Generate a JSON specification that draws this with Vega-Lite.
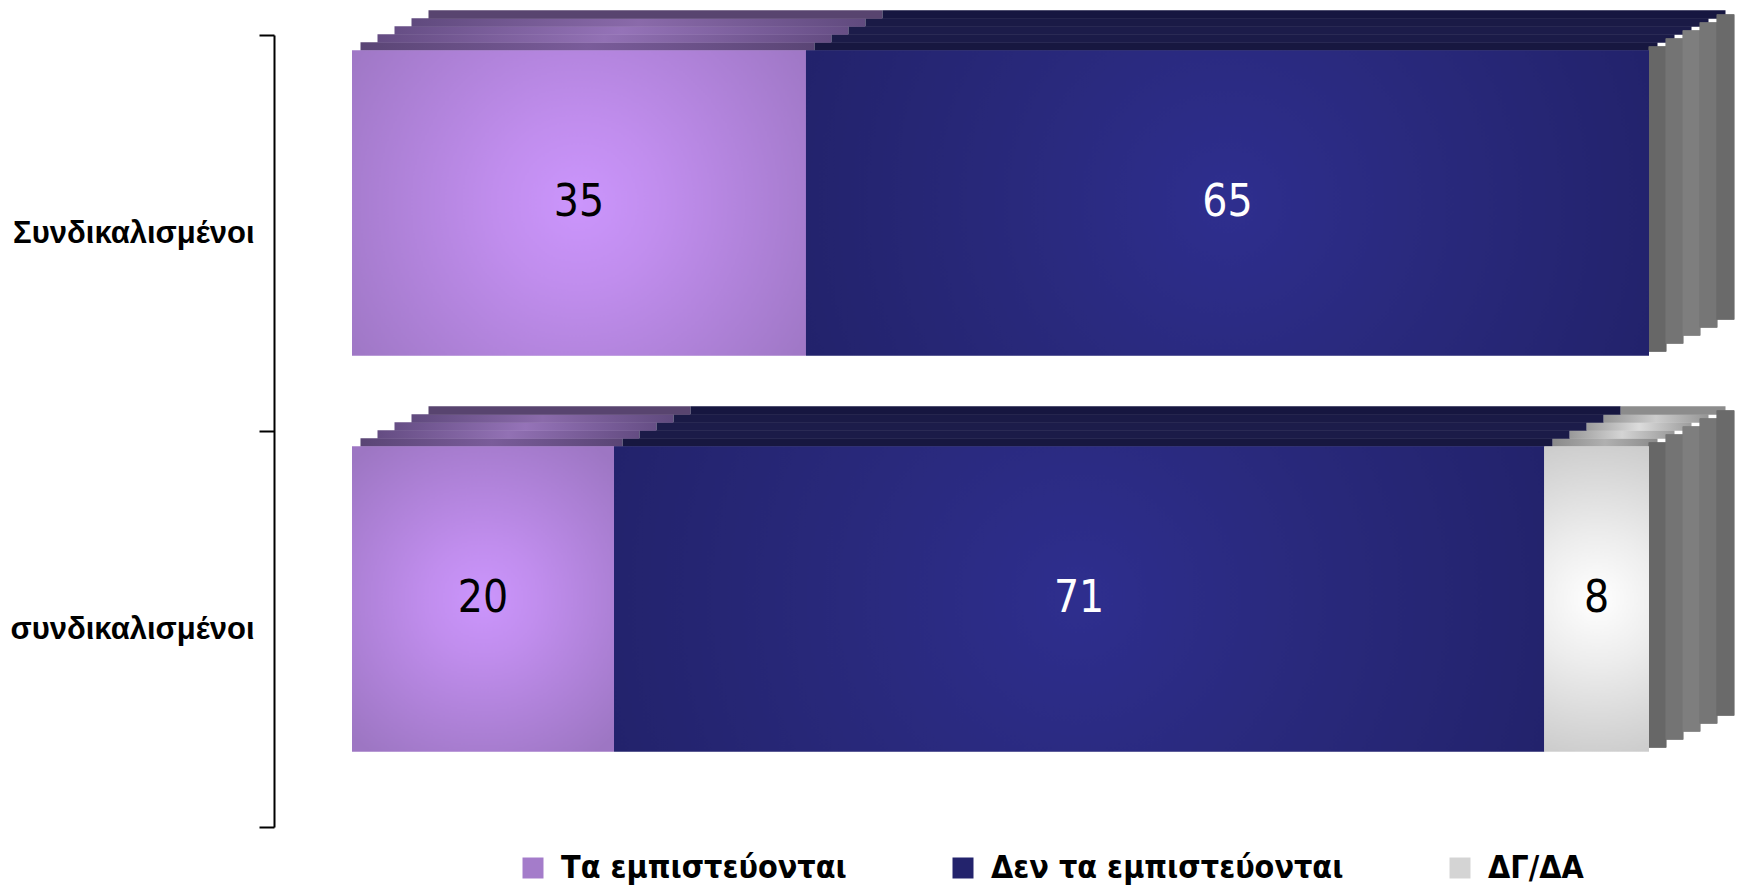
{
  "$schema": "https://vega.github.io/schema/vega-lite/v6.json",
  "width": 1297,
  "height": 792,
  "autosize": {"type": "none"},
  "padding": {"left": 352, "top": 35, "right": 90, "bottom": 61},
  "background": "white",
  "config": {"view": {"stroke": null}, "axis": {"grid": false}},
  "data": {
    "values": [
      {"group": "Συνδικαλισμένοι", "cat": "Τα εμπιστεύονται", "ord": 1, "val": 35},
      {"group": "Συνδικαλισμένοι", "cat": "Δεν τα εμπιστεύονται", "ord": 2, "val": 65},
      {"group": "Συνδικαλισμένοι", "cat": "ΔΓ/ΔΑ", "ord": 3, "val": 0},
      {"group": "συνδικαλισμένοι", "cat": "Τα εμπιστεύονται", "ord": 1, "val": 20},
      {"group": "συνδικαλισμένοι", "cat": "Δεν τα εμπιστεύονται", "ord": 2, "val": 71},
      {"group": "συνδικαλισμένοι", "cat": "ΔΓ/ΔΑ", "ord": 3, "val": 8}
    ]
  },
  "encoding": {
    "y": {
      "field": "group", "type": "nominal",
      "sort": ["Συνδικαλισμένοι", "συνδικαλισμένοι"],
      "scale": {"paddingInner": 0, "paddingOuter": 0},
      "axis": {
        "title": null, "offset": 78, "tickBand": "extent", "tickSize": 15, "tickWidth": 2,
        "tickColor": "black", "domainColor": "black", "domainWidth": 2,
        "labelFont": "Liberation Sans", "labelFontSize": 31, "labelFontWeight": "bold",
        "labelColor": "black", "labelPadding": 5, "labelLimit": 400
      }
    },
    "x": {"field": "val", "type": "quantitative", "stack": "normalize", "axis": null, "scale": {"domain": [0, 1], "nice": false}},
    "order": {"field": "ord"},
    "detail": {"field": "cat"}
  },
  "layer": [
    {
      "mark": {"type": "bar", "size": 8.5, "xOffset": 8.5, "yOffset": -186.5},
      "encoding": {"fill": {"condition": [
        {"test": "datum.cat === 'Τα εμπιστεύονται'", "value": {"gradient": "linear", "x1": 0, "y1": 0, "x2": 1, "y2": 0, "stops": [{"offset": 0, "color": "#5a4575"}, {"offset": 0.5, "color": "#7a5c9a"}, {"offset": 1, "color": "#5a4575"}]}},
        {"test": "datum.cat === 'Δεν τα εμπιστεύονται'", "value": "#171740"}],
        "value": {"gradient": "linear", "x1": 0, "y1": 0, "x2": 1, "y2": 0, "stops": [{"offset": 0, "color": "#8a8a8a"}, {"offset": 0.5, "color": "#b0b0b0"}, {"offset": 1, "color": "#8a8a8a"}]}}}
    },
    {
      "mark": {"type": "bar", "size": 8.5, "xOffset": 25.5, "yOffset": -194.5},
      "encoding": {"fill": {"condition": [
        {"test": "datum.cat === 'Τα εμπιστεύονται'", "value": {"gradient": "linear", "x1": 0, "y1": 0, "x2": 1, "y2": 0, "stops": [{"offset": 0, "color": "#644c82"}, {"offset": 0.5, "color": "#9271b4"}, {"offset": 1, "color": "#644c82"}]}},
        {"test": "datum.cat === 'Δεν τα εμπιστεύονται'", "value": "#1b1b48"}],
        "value": {"gradient": "linear", "x1": 0, "y1": 0, "x2": 1, "y2": 0, "stops": [{"offset": 0, "color": "#999999"}, {"offset": 0.5, "color": "#d4d4d4"}, {"offset": 1, "color": "#999999"}]}}}
    },
    {
      "mark": {"type": "bar", "size": 8.5, "xOffset": 42.5, "yOffset": -202.5},
      "encoding": {"fill": {"condition": [
        {"test": "datum.cat === 'Τα εμπιστεύονται'", "value": {"gradient": "linear", "x1": 0, "y1": 0, "x2": 1, "y2": 0, "stops": [{"offset": 0, "color": "#664e85"}, {"offset": 0.5, "color": "#9573b8"}, {"offset": 1, "color": "#664e85"}]}},
        {"test": "datum.cat === 'Δεν τα εμπιστεύονται'", "value": "#1c1c4a"}],
        "value": {"gradient": "linear", "x1": 0, "y1": 0, "x2": 1, "y2": 0, "stops": [{"offset": 0, "color": "#9c9c9c"}, {"offset": 0.5, "color": "#dcdcdc"}, {"offset": 1, "color": "#9c9c9c"}]}}}
    },
    {
      "mark": {"type": "bar", "size": 8.5, "xOffset": 59.5, "yOffset": -210.5},
      "encoding": {"fill": {"condition": [
        {"test": "datum.cat === 'Τα εμπιστεύονται'", "value": {"gradient": "linear", "x1": 0, "y1": 0, "x2": 1, "y2": 0, "stops": [{"offset": 0, "color": "#604a7e"}, {"offset": 0.5, "color": "#8a6aaa"}, {"offset": 1, "color": "#604a7e"}]}},
        {"test": "datum.cat === 'Δεν τα εμπιστεύονται'", "value": "#1a1a46"}],
        "value": {"gradient": "linear", "x1": 0, "y1": 0, "x2": 1, "y2": 0, "stops": [{"offset": 0, "color": "#959595"}, {"offset": 0.5, "color": "#cccccc"}, {"offset": 1, "color": "#959595"}]}}}
    },
    {
      "mark": {"type": "bar", "size": 8.5, "xOffset": 76.5, "yOffset": -218.5},
      "encoding": {"fill": {"condition": [
        {"test": "datum.cat === 'Τα εμπιστεύονται'", "value": "#58446f"},
        {"test": "datum.cat === 'Δεν τα εμπιστεύονται'", "value": "#161640"}],
        "value": "#8c8c8c"}}
    },
    {
      "mark": {"type": "tick", "thickness": 17.5, "size": 305, "xOffset": 8.5, "yOffset": -34, "opacity": 1, "color": "#676767"},
      "encoding": {"x": {"datum": 1, "type": "quantitative"}}
    },
    {
      "mark": {"type": "tick", "thickness": 17.5, "size": 305, "xOffset": 25.5, "yOffset": -42, "opacity": 1, "color": "#747474"},
      "encoding": {"x": {"datum": 1, "type": "quantitative"}}
    },
    {
      "mark": {"type": "tick", "thickness": 17.5, "size": 305, "xOffset": 42.5, "yOffset": -50, "opacity": 1, "color": "#7e7e7e"},
      "encoding": {"x": {"datum": 1, "type": "quantitative"}}
    },
    {
      "mark": {"type": "tick", "thickness": 17.5, "size": 305, "xOffset": 59.5, "yOffset": -58, "opacity": 1, "color": "#767676"},
      "encoding": {"x": {"datum": 1, "type": "quantitative"}}
    },
    {
      "mark": {"type": "tick", "thickness": 17.5, "size": 305, "xOffset": 76.5, "yOffset": -66, "opacity": 1, "color": "#6a6a6a"},
      "encoding": {"x": {"datum": 1, "type": "quantitative"}}
    },
    {
      "mark": {"type": "bar", "size": 305, "yOffset": -30},
      "encoding": {
        "color": {
          "field": "cat", "type": "nominal",
          "scale": {"domain": ["Τα εμπιστεύονται", "Δεν τα εμπιστεύονται", "ΔΓ/ΔΑ"], "range": ["#a47cca", "#23236c", "#d4d4d4"]},
          "legend": {
            "orient": "none", "legendX": 165, "legendY": 817, "direction": "horizontal", "columns": 3,
            "title": null, "symbolType": "square", "symbolSize": 441, "symbolStrokeWidth": 0, "symbolOpacity": 1,
            "labelFont": "'Liberation Sans Narrow', 'DejaVu Sans Condensed', 'Roboto Condensed', 'Arial Narrow', Roboto, sans-serif", "labelFontSize": 32, "labelFontWeight": "bold",
            "labelColor": "black", "labelOffset": 12, "columnPadding": 100, "labelLimit": 600, "padding": 0
          }
        }
      }
    },
    {
      "mark": {"type": "bar", "size": 305, "yOffset": -30},
      "encoding": {"fill": {"condition": [
        {"test": "datum.cat === 'Τα εμπιστεύονται'", "value": {"gradient": "radial", "x1": 0.5, "y1": 0.5, "r1": 0, "x2": 0.5, "y2": 0.5, "r2": 0.62, "stops": [{"offset": 0, "color": "#cb95fc"}, {"offset": 0.3, "color": "#c08ded"}, {"offset": 1, "color": "#9d76c3"}]}},
        {"test": "datum.cat === 'Δεν τα εμπιστεύονται'", "value": {"gradient": "radial", "x1": 0.5, "y1": 0.5, "r1": 0, "x2": 0.5, "y2": 0.5, "r2": 0.62, "stops": [{"offset": 0, "color": "#2e2e8e"}, {"offset": 0.4, "color": "#29297c"}, {"offset": 1, "color": "#202066"}]}}],
        "value": {"gradient": "radial", "x1": 0.5, "y1": 0.5, "r1": 0, "x2": 0.5, "y2": 0.5, "r2": 0.62, "stops": [{"offset": 0, "color": "#ffffff"}, {"offset": 0.35, "color": "#ececec"}, {"offset": 1, "color": "#c2c2c2"}]}}}
    },
    {
      "transform": [{"filter": "datum.val > 0"}],
      "mark": {"type": "text", "yOffset": -30, "fontSize": 44, "font": "'Liberation Sans Narrow', 'DejaVu Sans Condensed', 'Roboto Condensed', 'Arial Narrow', Roboto, sans-serif"},
      "encoding": {
        "x": {"field": "val", "type": "quantitative", "stack": "normalize", "bandPosition": 0.5},
        "text": {"field": "val", "type": "quantitative"},
        "color": {"condition": {"test": "datum.cat === 'Δεν τα εμπιστεύονται'", "value": "#ffffff"}, "value": "#000000"}
      }
    }
  ]
}
